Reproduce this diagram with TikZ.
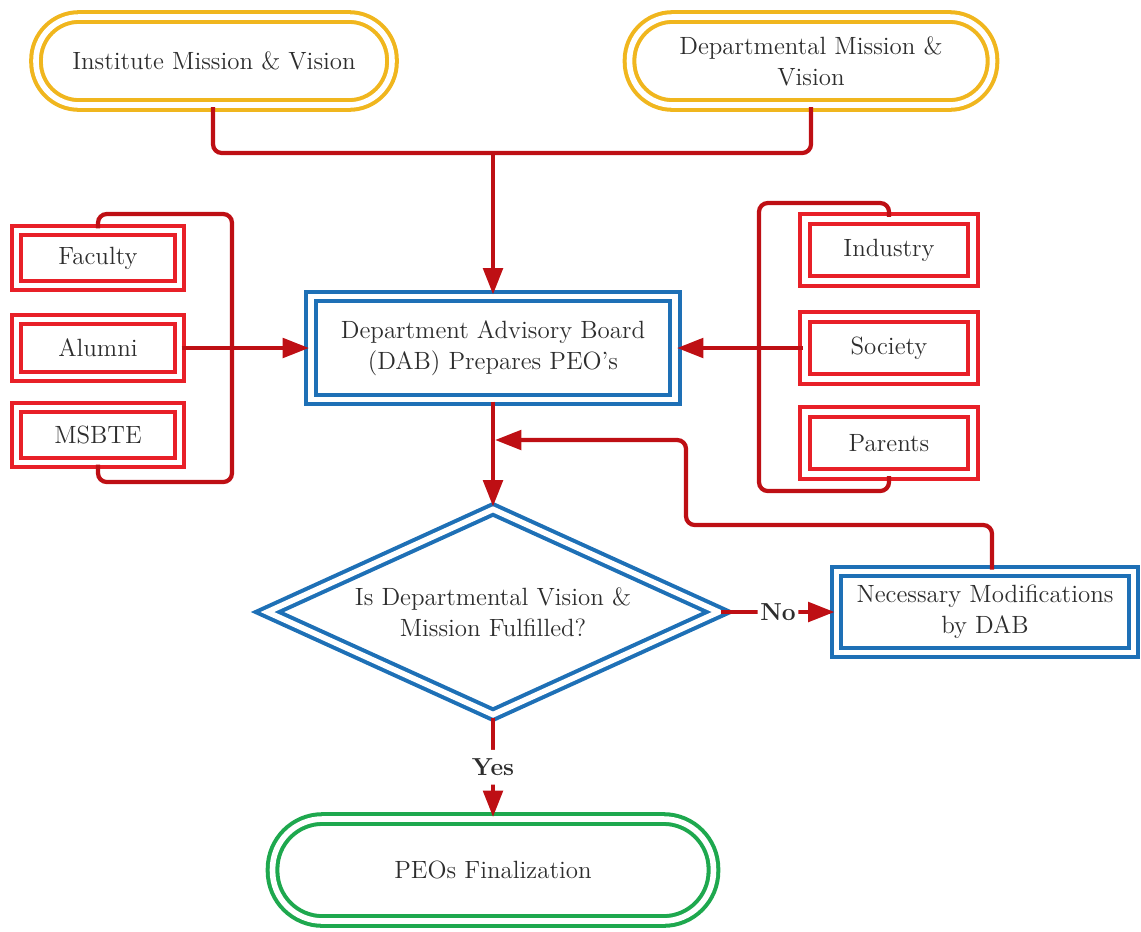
\documentclass[tikz,border=0pt]{standalone}
\usepackage{fontspec}
\usetikzlibrary{shapes.geometric,arrows.meta}
\definecolor{gold}{RGB}{240,182,30}
\definecolor{boxred}{RGB}{232,32,40}
\definecolor{connred}{RGB}{190,15,20}
\definecolor{boxblue}{RGB}{30,112,182}
\definecolor{boxgreen}{RGB}{30,168,78}
\definecolor{txt}{RGB}{45,45,45}
\tikzset{
  dbl/.style={double=white, line width=2.3pt, double distance=3.2pt, text=txt,
    font=\rmfamily\fontsize{14.2}{17.5}\selectfont, align=center, inner sep=0pt},
  term/.style={dbl, rectangle, rounded corners=0.86cm, minimum height=1.76cm},
  goldterm/.style={term, draw=gold, minimum width=7.2cm},
  redbox/.style={dbl, rectangle, draw=boxred},
  leftbox/.style={redbox, minimum width=3.26cm, minimum height=1.1cm},
  rightbox/.style={redbox, minimum width=3.36cm, minimum height=1.24cm},
  bluebox/.style={dbl, rectangle, draw=boxblue},
  conn/.style={draw=connred, line width=2.4pt, rounded corners=5pt},
  arr/.style={conn, -{Triangle[length=15pt,width=11pt]}},
  lab/.style={fill=white, text=txt, inner sep=1.5pt, font=\rmfamily\fontsize{14}{17}\selectfont\bfseries}
}
\begin{document}
\begin{tikzpicture}[x=0.02cm,y=-0.02cm]
\useasboundingbox (0,0) rectangle (1141,931);
% terminals
\node[goldterm, minimum width=7.12cm] (inst) at (214,61) {Institute Mission \& Vision};
\node[goldterm, minimum width=7.26cm] (dept) at (811,61) {Departmental Mission \&\\Vision};
% central board
\node[bluebox, minimum width=7.28cm, minimum height=2.06cm] (dab) at (493,348) {Department Advisory Board\\(DAB) Prepares PEO’s};
% left stakeholders
\node[leftbox] (fac) at (98,258) {Faculty};
\node[leftbox, minimum height=1.14cm] (alu) at (98,348) {Alumni};
\node[leftbox] (msb) at (98,435) {MSBTE};
% right stakeholders
\node[rightbox] (ind) at (889,250) {Industry};
\node[rightbox] (soc) at (889,348) {Society};
\node[rightbox] (par) at (889,443) {Parents};
% decision
\node[dbl, diamond, draw=boxblue, aspect=2.2, minimum width=9.06cm, minimum height=4.14cm] (dia) at (493,612) {Is Departmental Vision \&\\Mission Fulfilled?};
% modifications
\node[bluebox, minimum width=5.94cm, minimum height=1.62cm] (nec) at (985,612) {Necessary Modifications\\by DAB};
% final
\node[term, draw=boxgreen, minimum width=8.82cm, minimum height=2.04cm, rounded corners=1cm] (peo) at (493,870) {PEOs Finalization};

% top merge
\coordinate (mid) at (493,153);
\draw[conn] (inst.south -| 213,0) |- (mid) -| (dept.south);
\draw[arr] (mid) -- (dab.north);

% left bracket
\coordinate (lt) at (232,214);
\coordinate (lb) at (232,482);
\draw[conn] (fac.north) |- (lt) -- (lb) -| (msb.south);
\draw[arr] (alu.east) -- (dab.west);

% right bracket
\coordinate (rt) at (759,203);
\coordinate (rb) at (759,491);
\draw[conn] (ind.north) |- (rt) -- (rb) -| (par.south);
\draw[arr] (soc.west) -- (dab.east);

% down to decision
\draw[arr] (dab.south) -- (dia.north);

% feedback
\coordinate (fa) at (992,525);
\coordinate (fb) at (686,440);
\coordinate (fc) at (495,440);
\draw[arr] (nec.north -| fa) -- (fa) -| (fb) -- (fc);

% No / Yes
\draw[arr] (dia.east) -- node[lab]{No} (nec.west);
\draw[arr] (dia.south) -- node[lab, inner ysep=5pt]{Yes} (peo.north);
\end{tikzpicture}
\end{document}
